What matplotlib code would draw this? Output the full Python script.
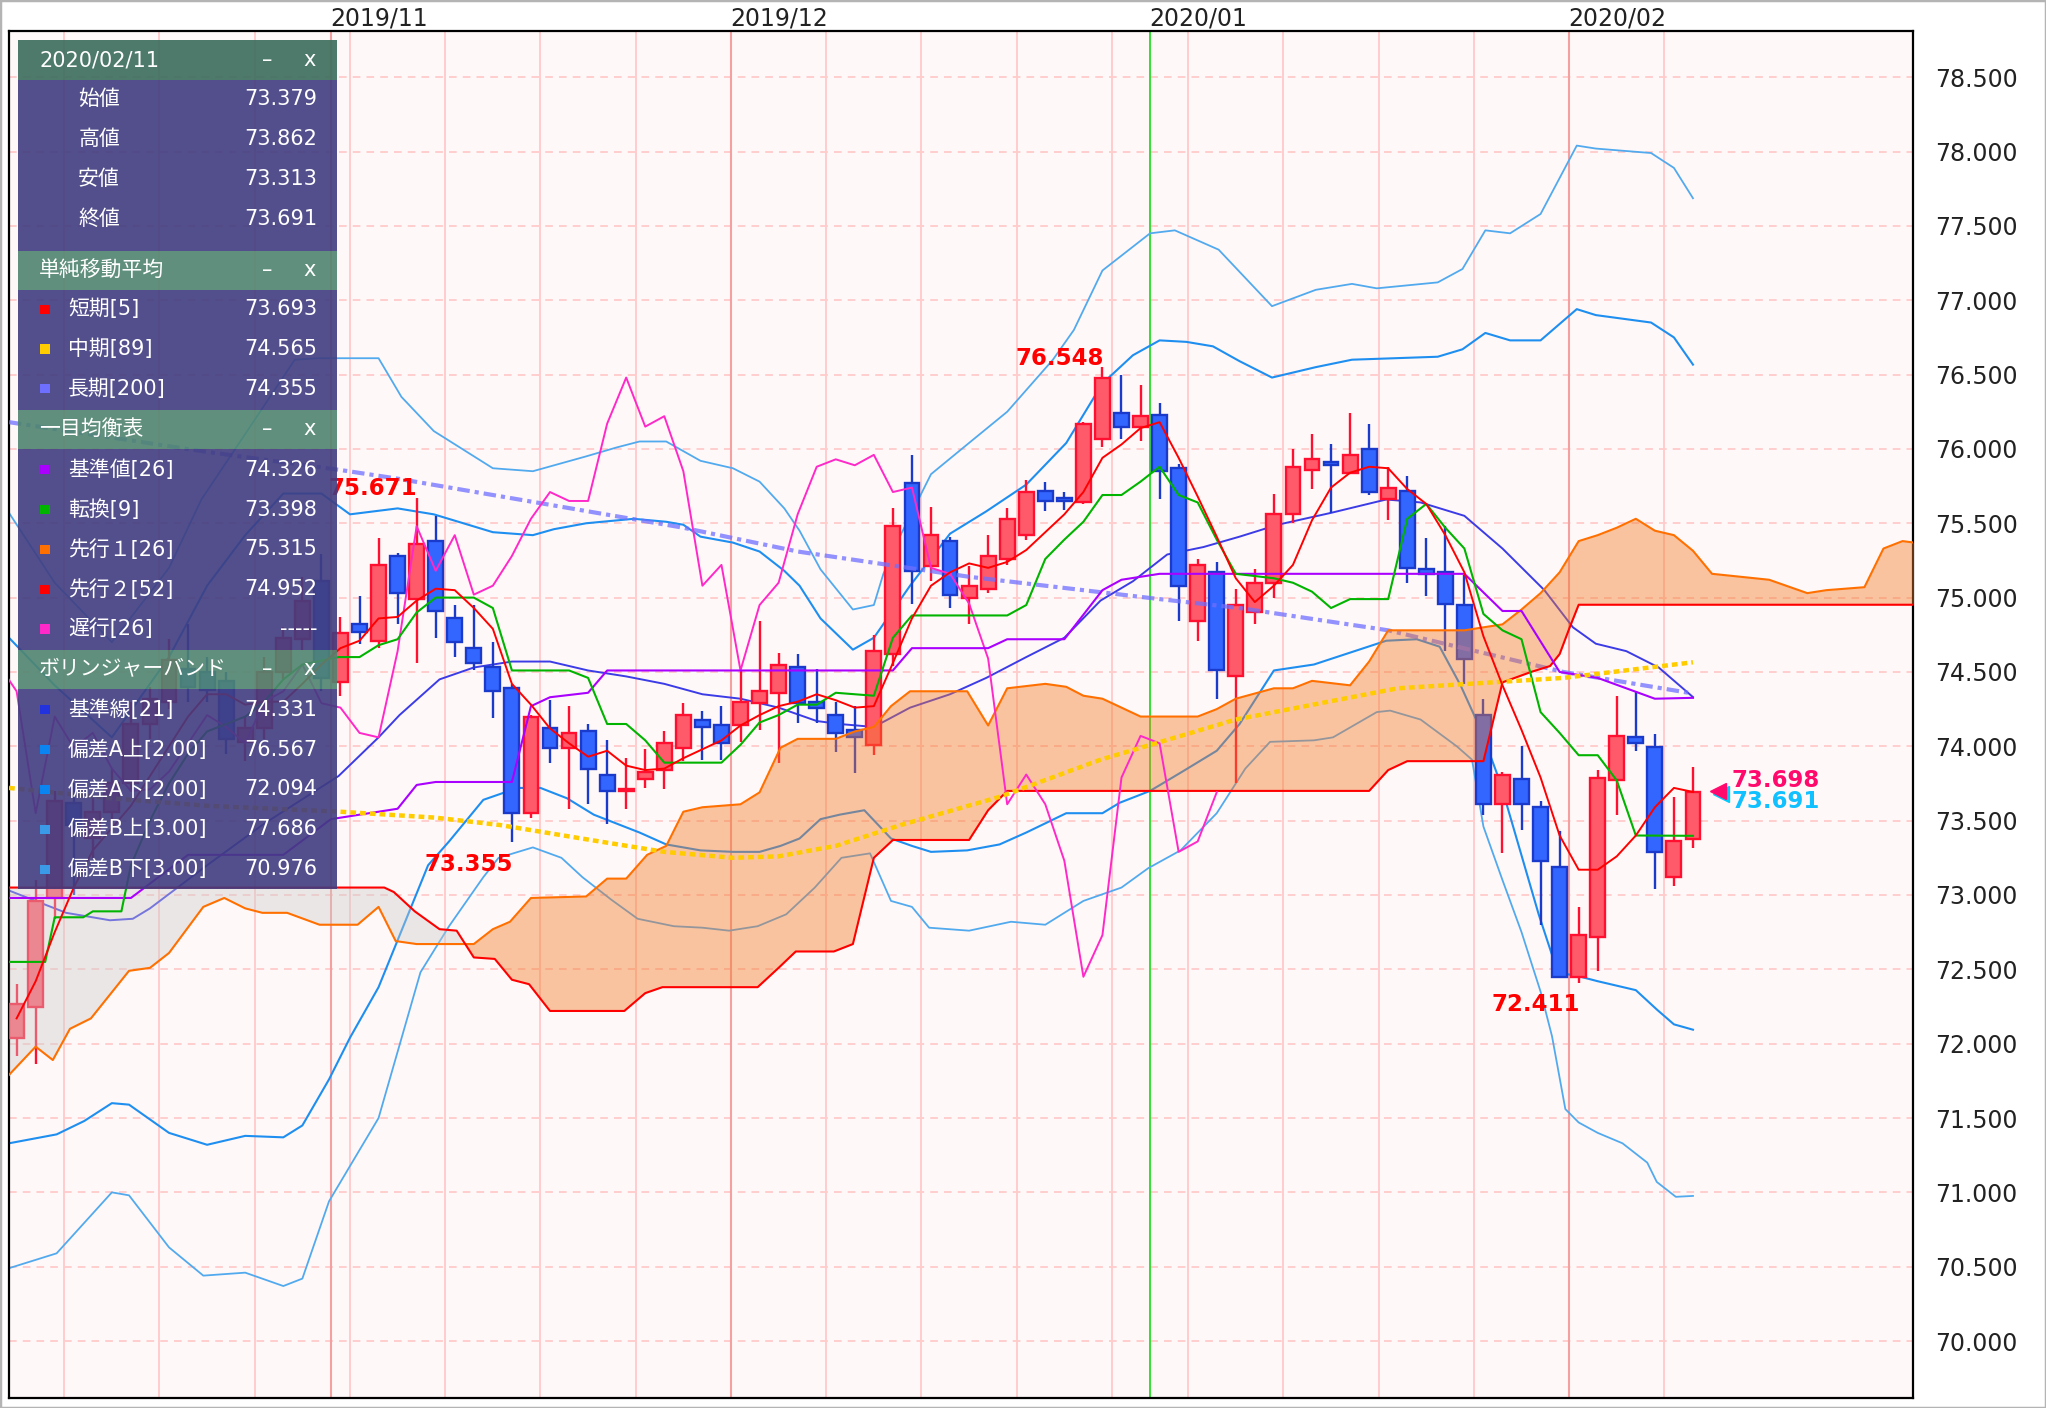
import numpy as np
import matplotlib
matplotlib.use('Agg')
import matplotlib.pyplot as plt
from matplotlib.patches import Rectangle

plt.rcParams['font.family'] = ['DejaVu Sans', 'Noto Sans CJK JP']

# ---------------- candles (Oct 9 2019 .. Feb 11 2020, index 0..88) ----------------
opens = [72.04, 72.25, 72.98, 73.62, 73.38, 73.56, 73.75, 74.15, 74.30, 74.52,
         74.50, 74.44, 74.03, 74.12, 74.50, 74.72, 75.11, 74.43, 74.82, 74.71,
         75.28, 74.99, 75.38, 74.86, 74.66, 74.53, 74.39, 73.55, 74.12, 73.99,
         74.105, 73.81, 73.70, 73.78, 73.84, 73.99, 74.18, 74.14, 74.14, 74.29,
         74.36, 74.53, 74.30, 74.21, 74.11, 74.01, 74.62, 75.77, 75.21, 75.38,
         75.00, 75.06, 75.26, 75.42, 75.72, 75.67, 75.64, 76.07, 76.24, 76.15,
         76.23, 75.87, 74.84, 75.17, 74.47, 74.90, 75.10, 75.56, 75.86, 75.91,
         75.84, 76.00, 75.66, 75.72, 75.19, 75.17, 74.95, 74.21, 73.61, 73.78,
         73.59, 73.19, 72.45, 72.72, 73.77, 74.06, 73.997, 73.12, 73.379]
highs = [72.40, 73.10, 73.70, 73.75, 73.65, 73.85, 74.30, 74.40, 74.72, 74.82,
         74.60, 74.50, 74.20, 74.60, 74.80, 75.14, 75.29, 74.87, 75.01, 75.40,
         75.30, 75.671, 75.55, 74.95, 74.95, 74.70, 74.42, 74.21, 74.31, 74.27,
         74.15, 74.04, 73.92, 73.98, 74.105, 74.29, 74.24, 74.27, 74.51, 74.84,
         74.63, 74.62, 74.52, 74.30, 74.27, 74.75, 75.60, 75.96, 75.61, 75.41,
         75.21, 75.42, 75.60, 75.79, 75.78, 75.71, 76.18, 76.548, 76.50, 76.43,
         76.31, 75.90, 75.26, 75.24, 75.06, 75.19, 75.70, 76.00, 76.10, 76.03,
         76.24, 76.17, 75.88, 75.82, 75.40, 75.48, 75.15, 74.32, 73.83, 74.00,
         73.63, 73.43, 72.92, 73.84, 74.34, 74.37, 74.08, 73.66, 73.862]
lows = [71.92, 71.86, 72.84, 73.00, 73.25, 73.45, 73.70, 74.05, 74.25, 74.30,
        74.30, 73.95, 73.90, 74.05, 74.45, 74.65, 74.37, 74.34, 74.69, 74.66,
        74.82, 74.56, 74.73, 74.60, 74.51, 74.19, 73.355, 73.52, 73.89, 73.58,
        73.61, 73.48, 73.58, 73.72, 73.71, 73.90, 73.91, 73.91, 74.03, 74.11,
        73.89, 74.16, 74.16, 73.96, 73.82, 73.94, 74.54, 74.96, 75.11, 74.93,
        74.82, 75.03, 75.22, 75.39, 75.58, 75.59, 75.63, 76.01, 76.07, 76.05,
        75.66, 74.84, 74.71, 74.32, 73.75, 74.82, 75.00, 75.50, 75.73, 75.57,
        75.83, 75.69, 75.52, 75.10, 75.01, 74.64, 74.42, 73.54, 73.28, 73.44,
        72.80, 72.44, 72.411, 72.49, 73.54, 73.97, 73.04, 73.06, 73.313]
closes = [72.27, 72.96, 73.63, 73.47, 73.56, 73.75, 74.15, 74.32, 74.58, 74.40,
          74.38, 74.05, 74.12, 74.50, 74.73, 74.98, 74.46, 74.76, 74.77, 75.22,
          75.03, 75.36, 74.91, 74.70, 74.56, 74.37, 73.55, 74.20, 73.99, 74.09,
          73.85, 73.70, 73.71, 73.83, 74.02, 74.21, 74.13, 74.02, 74.30, 74.37,
          74.55, 74.29, 74.26, 74.09, 74.06, 74.64, 75.48, 75.18, 75.42, 75.02,
          75.08, 75.28, 75.53, 75.71, 75.65, 75.65, 76.17, 76.48, 76.15, 76.22,
          75.85, 75.08, 75.22, 74.51, 74.95, 75.10, 75.56, 75.88, 75.93, 75.89,
          75.96, 75.71, 75.74, 75.20, 75.16, 74.96, 74.59, 73.61, 73.81, 73.61,
          73.23, 72.45, 72.73, 73.79, 74.07, 74.02, 73.29, 73.36, 73.691]

# ---------------- moving averages ----------------
sma5 = [72.17, 72.42, 72.75, 73.05, 73.30, 73.45, 73.60, 73.80, 74.00, 74.20,
        74.35, 74.35, 74.28, 74.30, 74.30, 74.42, 74.55, 74.66, 74.71, 74.86,
        74.87, 74.98, 75.06, 75.05, 74.93, 74.79, 74.42, 74.28, 74.12, 74.02,
        73.93, 73.97, 73.87, 73.84, 73.85, 73.92, 73.98, 74.04, 74.14, 74.21,
        74.27, 74.30, 74.35, 74.31, 74.26, 74.27, 74.56, 74.86, 75.08, 75.17,
        75.23, 75.20, 75.24, 75.32, 75.44, 75.56, 75.71, 75.94, 76.03, 76.14,
        76.18, 75.94, 75.68, 75.41, 75.13, 74.97, 75.08, 75.22, 75.52, 75.74,
        75.84, 75.88, 75.87, 75.73, 75.63, 75.42, 75.17, 74.74, 74.41, 74.11,
        73.79, 73.40, 73.17, 73.17, 73.26, 73.40, 73.59, 73.72, 73.693]
sma89_x = [-0.4, 5, 10, 17, 22, 25.4, 30.6, 34, 37.6, 40, 43, 46.4, 51.6, 56.9, 64, 72.5, 81.2, 88]
sma89_y = [73.72, 73.65, 73.60, 73.56, 73.52, 73.47, 73.36, 73.29, 73.25, 73.26, 73.33, 73.47,
           73.66, 73.91, 74.18, 74.39, 74.46, 74.565]
sma200_x = [-0.4, 10, 16.9, 20, 30, 35, 41, 50, 60, 64.2, 72, 81.2, 88]
sma200_y = [76.18, 75.98, 75.86, 75.80, 75.58, 75.47, 75.31, 75.14, 74.99, 74.93, 74.78, 74.50, 74.355]

# ---------------- ichimoku ----------------
kijun_x = [-0.4, 6, 9, 14, 16.5, 20, 21, 22, 26, 27, 28, 30, 31, 46, 47, 51, 52, 55, 57, 58, 60,
           76, 78, 79, 81, 83, 86, 88]
kijun_y = [72.98, 72.98, 73.27, 73.27, 73.51, 73.58, 73.74, 73.76, 73.76, 74.27, 74.33, 74.36, 74.51,
           74.51, 74.66, 74.66, 74.72, 74.72, 75.05, 75.12, 75.16, 75.16, 74.91, 74.91, 74.50, 74.46,
           74.32, 74.326]
tenkan_x = [-0.4, 1.5, 2, 3.5, 4, 5.5, 6, 7, 8, 9, 10, 12, 13, 14, 15, 16.9, 18, 19, 20, 21, 22, 24,
            25, 26, 29, 30, 31, 32, 33, 34, 37, 38, 39, 40, 41, 42, 43, 45, 46, 47, 52, 53, 54, 55,
            56, 57, 58, 59, 60, 61, 62, 63, 64, 66, 67, 68, 69, 70, 72, 73, 74, 75, 76, 77, 78, 79,
            80, 81, 82, 83, 84, 85, 88]
tenkan_y = [72.55, 72.55, 72.85, 72.85, 72.89, 72.89, 73.20, 73.50, 73.75, 73.95, 74.10, 74.20, 74.30,
            74.45, 74.55, 74.60, 74.60, 74.68, 74.72, 74.90, 75.00, 75.00, 74.93, 74.51, 74.51, 74.46,
            74.15, 74.15, 74.04, 73.89, 73.89, 74.01, 74.16, 74.21, 74.28, 74.28, 74.36, 74.34, 74.73,
            74.88, 74.88, 74.95, 75.26, 75.39, 75.51, 75.69, 75.69, 75.78, 75.88, 75.69, 75.64, 75.39,
            75.16, 75.13, 75.10, 75.04, 74.93, 74.99, 74.99, 75.53, 75.63, 75.47, 75.33, 74.89, 74.78,
            74.72, 74.23, 74.09, 73.94, 73.94, 73.77, 73.40, 73.398]
senkou_a_x = [-0.4, 1, 1.9, 2.8, 3.9, 5.9, 7, 8, 9.8, 10.9, 12, 12.9, 14.2, 15.9, 17.9, 19, 19.9, 21,
              24, 25, 25.9, 27, 29.9, 31, 32, 33.1, 34.1, 35, 36, 38, 39, 40.1, 41, 43, 44, 45, 45.9,
              46.9, 49.9, 51, 52, 54, 55.1, 56, 57, 59, 62, 63, 64, 66, 67, 68, 70, 71, 72, 76, 78,
              79, 80, 81, 82, 83, 84, 85, 86, 87, 88, 89, 92, 94, 95, 97, 98, 99, 99.6]
senkou_a_y = [71.79, 71.98, 71.89, 72.10, 72.17, 72.49, 72.51, 72.61, 72.92, 72.98, 72.91, 72.88,
              72.88, 72.80, 72.80, 72.92, 72.69, 72.67, 72.67, 72.77, 72.82, 72.98, 72.99, 73.11,
              73.11, 73.27, 73.33, 73.56, 73.59, 73.61, 73.69, 73.99, 74.05, 74.05, 74.10, 74.13,
              74.27, 74.37, 74.37, 74.14, 74.39, 74.42, 74.40, 74.34, 74.32, 74.20, 74.20, 74.25,
              74.32, 74.39, 74.39, 74.44, 74.41, 74.57, 74.78, 74.78, 74.82, 74.92, 75.03, 75.17,
              75.38, 75.42, 75.47, 75.53, 75.45, 75.42, 75.315, 75.16, 75.12, 75.03, 75.05, 75.07,
              75.33, 75.38, 75.37]
senkou_b_x = [-0.4, 19.3, 19.8, 20.9, 22.2, 23.1, 24, 25.1, 26, 26.9, 28, 31.9, 33, 33.9, 38.9, 40,
              40.9, 42.9, 43.9, 45, 46, 50, 51, 52, 71, 72, 73, 77, 78, 79.5, 80.5, 81, 81.5, 82, 99.6]
senkou_b_y = [73.05, 73.05, 73.02, 72.89, 72.77, 72.76, 72.58, 72.57, 72.43, 72.40, 72.22, 72.22,
              72.34, 72.38, 72.38, 72.51, 72.62, 72.62, 72.67, 73.25, 73.37, 73.37, 73.57, 73.70,
              73.70, 73.84, 73.90, 73.90, 74.43, 74.50, 74.54, 74.62, 74.79, 74.952, 74.952]

# ---------------- bollinger ----------------
bb_mid_x = [-0.4, 2.6, 4.9, 6.1, 7, 10, 13, 16.9, 19, 20.1, 22.2, 24, 26, 28, 30, 32, 34, 36, 38, 40,
            42, 43.2, 45, 46.9, 49, 50.9, 53, 55, 56.9, 58.6, 60.4, 62.3, 64.2, 66.2, 69, 71.9, 73.7,
            76, 78, 80.2, 81.7, 82.9, 84.5, 86.2, 88]
bb_mid_y = [73.03, 72.88, 72.83, 72.84, 72.91, 73.20, 73.48, 73.80, 74.06, 74.21, 74.45, 74.53, 74.57,
            74.57, 74.51, 74.47, 74.42, 74.35, 74.32, 74.26, 74.17, 74.15, 74.13, 74.26, 74.35, 74.46,
            74.60, 74.73, 74.98, 75.11, 75.29, 75.34, 75.41, 75.49, 75.57, 75.66, 75.64, 75.55, 75.33,
            75.05, 74.80, 74.69, 74.64, 74.53, 74.331]
bb_up2_x = [-0.4, 2, 5, 8, 10, 12, 14, 16, 17.5, 20, 21.9, 25, 27.1, 28.2, 29.9, 32.4, 34.1, 35, 35.9,
            37.6, 39, 40.3, 41.1, 42.2, 43.9, 45, 46.9, 49, 50.9, 53, 55.1, 57, 58.6, 60, 61.4, 62.8,
            64.2, 65.9, 68.2, 70.1, 74.6, 75.9, 77.1, 78.4, 80, 81.9, 82.9, 85.8, 87, 88]
bb_up2_y = [74.73, 74.41, 74.06, 74.60, 75.08, 75.42, 75.70, 75.70, 75.56, 75.60, 75.56, 75.44, 75.42,
            75.46, 75.50, 75.53, 75.51, 75.49, 75.41, 75.37, 75.31, 75.18, 75.08, 74.86, 74.65, 74.73,
            75.08, 75.43, 75.58, 75.76, 76.04, 76.44, 76.63, 76.73, 76.72, 76.69, 76.59, 76.48, 76.55,
            76.60, 76.62, 76.67, 76.78, 76.73, 76.73, 76.94, 76.90, 76.85, 76.75, 76.567]
bb_up3_x = [-0.4, 2, 5, 8, 9.7, 12, 14.6, 15.8, 19, 20.2, 21.9, 25, 27.1, 29.9, 31.5, 32.7, 34.1, 35.9,
            37.6, 39, 40.3, 41.1, 42.2, 43.9, 45, 45.5, 46.4, 48, 49.9, 52, 54.4, 55.5, 57, 59.5, 60.8,
            63.1, 65.9, 68.2, 70.1, 71.4, 74.6, 75.9, 77.1, 78.4, 80, 81.9, 82.9, 85.8, 87, 88]
bb_up3_y = [75.57, 75.10, 74.70, 75.20, 75.66, 76.10, 76.60, 76.61, 76.61, 76.35, 76.12, 75.87, 75.85,
            75.95, 76.01, 76.05, 76.05, 75.92, 75.87, 75.78, 75.60, 75.45, 75.19, 74.92, 74.95, 75.16,
            75.42, 75.83, 76.03, 76.25, 76.60, 76.80, 77.20, 77.45, 77.47, 77.34, 76.96, 77.07, 77.11,
            77.08, 77.12, 77.21, 77.47, 77.45, 77.58, 78.04, 78.02, 77.99, 77.89, 77.686]
bb_dn2_x = [-0.4, 2.1, 3.55, 5, 5.9, 8, 10, 12, 14, 15, 16.4, 17.5, 19, 20.3, 21.6, 22.7, 24.5, 26.3,
            27.5, 28.9, 30.3, 31.3, 32.7, 34.1, 35.9, 37.6, 39, 40.1, 41.1, 42.2, 43.2, 44.5, 45.9, 47,
            48, 49.9, 51.6, 53, 55.1, 57, 57.9, 59.5, 61.2, 63, 64.2, 66, 68.1, 70, 71.9, 73.5, 74.7,
            75.8, 76.9, 77.9, 78.9, 79.9, 80.9, 82.1, 83, 85, 86.1, 87, 88]
bb_dn2_y = [71.33, 71.39, 71.48, 71.60, 71.59, 71.40, 71.32, 71.38, 71.37, 71.45, 71.76, 72.04, 72.38,
            72.79, 73.20, 73.36, 73.64, 73.72, 73.72, 73.65, 73.54, 73.49, 73.42, 73.34, 73.30, 73.29,
            73.29, 73.33, 73.38, 73.51, 73.54, 73.57, 73.38, 73.33, 73.29, 73.30, 73.34, 73.42, 73.55,
            73.55, 73.62, 73.70, 73.83, 73.97, 74.15, 74.51, 74.55, 74.63, 74.71, 74.72, 74.67, 74.41,
            74.10, 73.75, 73.31, 72.87, 72.48, 72.45, 72.42, 72.36, 72.23, 72.13, 72.094]
bb_dn3_x = [-0.4, 2.1, 5, 5.9, 8, 9.8, 12, 14, 15, 16.4, 19, 21.2, 22.7, 24.5, 25.3, 27.1, 28.6, 29.7,
            31.2, 32.6, 34.5, 36, 37.4, 38.9, 40.4, 41.9, 43.3, 44.8, 45.9, 47, 47.9, 50, 52.2, 54, 56,
            58, 59.4, 61.1, 63, 64.5, 65.8, 68.1, 69.1, 71.4, 72.1, 73.7, 75.6, 76.4, 77, 78, 79, 80,
            80.6, 81.3, 82, 83, 84.3, 85.6, 86.1, 87.1, 88]
bb_dn3_y = [70.49, 70.59, 71.00, 70.98, 70.63, 70.44, 70.46, 70.37, 70.42, 70.94, 71.50, 72.48, 72.79,
            73.12, 73.25, 73.32, 73.25, 73.12, 72.97, 72.84, 72.79, 72.78, 72.76, 72.79, 72.87, 73.05,
            73.25, 73.28, 72.96, 72.92, 72.78, 72.76, 72.82, 72.80, 72.96, 73.05, 73.18, 73.30, 73.55,
            73.85, 74.03, 74.04, 74.06, 74.23, 74.24, 74.18, 74.00, 73.91, 73.46, 73.10, 72.75, 72.35,
            72.05, 71.56, 71.47, 71.40, 71.33, 71.20, 71.07, 70.97, 70.976]

# ---------------- axis / labels ----------------
price_ticks = [70.0, 70.5, 71.0, 71.5, 72.0, 72.5, 73.0, 73.5, 74.0, 74.5,
               75.0, 75.5, 76.0, 76.5, 77.0, 77.5, 78.0, 78.5]
week_lines = [2.5, 7.5, 12.5, 17.5, 22.5, 27.5, 32.5, 42.5, 47.5, 52.5, 57.5, 61.5, 66.5, 71.5, 76.5, 86.5]
month_lines = [16.5, 37.5, 81.5]
cursor_line = 59.5
month_pos = [16.5, 37.5, 59.5, 81.5]
month_labels = ['2019/11', '2019/12', '2020/01', '2020/02']

extreme_idx = [21, 26, 57, 82]
extreme_val = [75.671, 73.355, 76.548, 72.411]
extreme_kind = ['high', 'low', 'high', 'low']

last_sma5 = 73.698
last_close = 73.691

ohlc_labels = ['始値', '高値', '安値', '終値']
ohlc_values = ['73.379', '73.862', '73.313', '73.691']
sma_labels = ['短期[5]', '中期[89]', '長期[200]']
sma_values = ['73.693', '74.565', '74.355']
ichi_labels = ['基準値[26]', '転換[9]', '先行１[26]', '先行２[52]', '遅行[26]']
ichi_values = ['74.326', '73.398', '75.315', '74.952', '-----']
bb_labels = ['基準線[21]', '偏差A上[2.00]', '偏差A下[2.00]', '偏差B上[3.00]', '偏差B下[3.00]']
bb_values = ['74.331', '76.567', '72.094', '77.686', '70.976']

# colours
C_SMA5, C_SMA89, C_SMA200 = '#ff0000', '#ffcc00', '#6f6fff'
C_KIJUN, C_TENKAN, C_SPA, C_SPB, C_CHIKOU = '#aa00ff', '#00b400', '#ff7000', '#ff0000', '#ff28c8'
C_BBMID, C_BB2, C_BB3 = '#3c3ce6', '#1e8ff0', '#52aaee'

# ========================= figure =========================
fig = plt.figure(figsize=(20.46, 14.08), dpi=100)
fig.patch.set_facecolor('white')
ax = fig.add_axes([9 / 2046, 10 / 1408, 1904 / 2046, 1366.6 / 1408])
ax.set_facecolor('#fff8f8')
ax.set_xlim(-0.4, 99.55)
ax.set_ylim(69.617, 78.808)
for s in ax.spines.values():
    s.set_color('black')
    s.set_linewidth(1.6)

# grid
for v in price_ticks:
    ax.axhline(v, color='#ffc2c2', lw=1.1, ls=(0, (5, 4)), zorder=0.5)
for xv in week_lines:
    ax.axvline(xv, color='#ffcccc', lw=1.4, zorder=0.6)
for xv in month_lines:
    ax.axvline(xv, color='#f5a0a0', lw=1.5, zorder=0.7)
ax.axvline(cursor_line, color='#22dd22', lw=1.3, zorder=0.8)

ax.set_xticks([])
ax.set_yticks(price_ticks)
ax.set_yticklabels([f'{v:.3f}' for v in price_ticks], fontsize=17, color='#222222')
ax.yaxis.tick_right()
ax.tick_params(axis='y', length=0, pad=16)

for p, lab in zip(month_pos, month_labels):
    ax.text(p + 2.55, 1.0095, lab, transform=ax.get_xaxis_transform(), ha='center', va='center',
            fontsize=17, color='#222222')

# bollinger
ax.plot(bb_up3_x, bb_up3_y, color=C_BB3, lw=1.3, zorder=2)
ax.plot(bb_dn3_x, bb_dn3_y, color=C_BB3, lw=1.3, zorder=2)
ax.plot(bb_up2_x, bb_up2_y, color=C_BB2, lw=1.5, zorder=2)
ax.plot(bb_dn2_x, bb_dn2_y, color=C_BB2, lw=1.5, zorder=2)
ax.plot(bb_mid_x, bb_mid_y, color=C_BBMID, lw=1.4, zorder=2)

# candles
o = np.array(opens)
h = np.array(highs)
l = np.array(lows)
c = np.array(closes)
idx = np.arange(len(o))
up = c >= o
for mask, face, edge in [(up, '#ff5a6a', '#ff1030'), (~up, '#3366ff', '#1a3acc')]:
    ax.vlines(idx[mask], l[mask], h[mask], color=edge, lw=1.7, zorder=3)
    bottom = np.minimum(o, c)[mask]
    height = np.maximum(np.abs(c - o)[mask], 0.01)
    ax.bar(idx[mask], height, bottom=bottom, width=0.78, color=face, edgecolor=edge,
           linewidth=1.7, zorder=3.1)

# SMA200 under the cloud
ax.plot(sma200_x, sma200_y, color=C_SMA200, lw=3.0, alpha=0.75, ls=(0, (3, 1.2, 1, 1.2)), zorder=3.5)

# cloud
grid = np.union1d(senkou_a_x, senkou_b_x)
sa = np.interp(grid, senkou_a_x, senkou_a_y)
sb = np.interp(grid, senkou_b_x, senkou_b_y)
ax.fill_between(grid, sa, sb, where=sa >= sb, interpolate=True, color='#f27b28', alpha=0.42,
                lw=0, zorder=4)
ax.fill_between(grid, sa, sb, where=sa < sb, interpolate=True, color='#cccccc', alpha=0.4,
                lw=0, zorder=4)
ax.plot(senkou_a_x, senkou_a_y, color=C_SPA, lw=1.5, zorder=5)
ax.plot(senkou_b_x, senkou_b_y, color=C_SPB, lw=1.5, zorder=5)

# other lines
chikou_x = np.arange(24, len(closes)) - 25
ax.plot(chikou_x, closes[24:], color=C_CHIKOU, lw=1.4, zorder=5.2)
ax.plot(kijun_x, kijun_y, color=C_KIJUN, lw=1.5, zorder=5.3)
ax.plot(tenkan_x, tenkan_y, color=C_TENKAN, lw=1.5, zorder=5.4)
ax.plot(sma89_x, sma89_y, color=C_SMA89, lw=3.2, ls=(0, (1.3, 0.9)), zorder=5.5)
ax.plot(idx, sma5, color=C_SMA5, lw=1.4, zorder=5.6)

# extremes
for i, v, k in zip(extreme_idx, extreme_val, extreme_kind):
    yy = v + 0.06 if k == 'high' else v - 0.15
    ax.text(i + 0.05, yy, f'{v:.3f}', ha='right', va='center', color='#ff0000', fontsize=16.5,
            fontweight='bold', zorder=8)

# last price markers
ax.plot(89.45, 73.68, marker='<', ms=11, color='#00ccff', zorder=8, clip_on=False)
ax.plot(89.3, 73.70, marker='<', ms=11, color='#ff0a6c', zorder=8.1, clip_on=False)
ax.text(90.0, 73.77, f'{last_sma5:.3f}', color='#ff0a6c', fontsize=16.5, fontweight='bold',
        ha='left', va='center', zorder=8)
ax.text(90.0, 73.627, f'{last_close:.3f}', color='#10c0ff', fontsize=16.5, fontweight='bold',
        ha='left', va='center', zorder=8)

# ========================= info panel =========================
SW, SH = 1568.0, 1079.0


def fx(x):
    return x / SW


def fy(y):
    return 1 - y / SH


def band(y0, y1, color, alpha):
    fig.add_artist(Rectangle((fx(14), fy(y1)), fx(258) - fx(14), fy(y0) - fy(y1),
                             transform=fig.transFigure, facecolor=color, alpha=alpha,
                             edgecolor='none', zorder=10))


def header(yc, text):
    fig.text(fx(30), fy(yc), text, color='white', fontsize=15, ha='left', va='center', zorder=11)
    fig.text(fx(205), fy(yc), '–', color='white', fontsize=15, ha='center', va='center', zorder=11)
    fig.text(fx(237), fy(yc), 'x', color='white', fontsize=15, ha='center', va='center', zorder=11)


def row(yc, label, value, sq=None, lx=52):
    if sq is not None:
        fig.add_artist(Rectangle((fx(31), fy(yc + 3.5)), fx(7), 7 / SH, transform=fig.transFigure,
                                 facecolor=sq, edgecolor='none', zorder=11))
    fig.text(fx(lx), fy(yc), label, color='white', fontsize=15, ha='left', va='center', zorder=11)
    fig.text(fx(243), fy(yc), value, color='white', fontsize=15, ha='right', va='center', zorder=11)


PANEL = (0.25, 0.24, 0.50)
band(31, 61, '#3f7060', 0.93)
band(61, 192, PANEL, 0.90)
band(192, 222, '#4f8570', 0.90)
band(222, 314, PANEL, 0.90)
band(314, 344, '#4f8570', 0.90)
band(344, 498, PANEL, 0.90)
band(498, 528, '#4f8570', 0.90)
band(528, 681, PANEL, 0.90)

header(46, '2020/02/11')
for k, (lab, val) in enumerate(zip(ohlc_labels, ohlc_values)):
    row(76 + k * 30.7, lab, val, lx=60)

header(207, '単純移動平均')
for k, (lab, val, col) in enumerate(zip(sma_labels, sma_values, [C_SMA5, C_SMA89, C_SMA200])):
    row(237 + k * 30.5, lab, val, sq=col)

header(329, '一目均衡表')
for k, (lab, val, col) in enumerate(zip(ichi_labels, ichi_values,
                                        [C_KIJUN, C_TENKAN, C_SPA, C_SPB, C_CHIKOU])):
    row(360 + k * 30.5, lab, val, sq=col)

header(513, 'ボリンジャーバンド')
for k, (lab, val, col) in enumerate(zip(bb_labels, bb_values,
                                        ['#2233dd', '#0a84f0', '#0a84f0', '#3a9ae8', '#3a9ae8'])):
    row(544 + k * 30.5, lab, val, sq=col)

# outer frame
fig.add_artist(Rectangle((0, 0), 1, 1, transform=fig.transFigure, fill=False,
                         edgecolor='#b4b4b4', lw=2.5, zorder=20))

fig.savefig('out.png', dpi=100)
